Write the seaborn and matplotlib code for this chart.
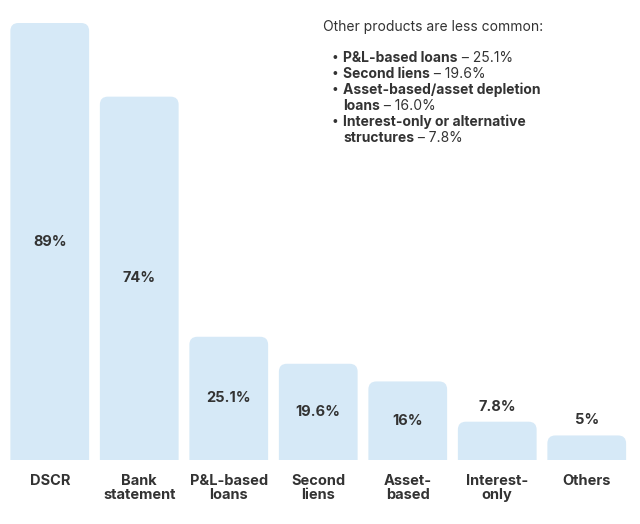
import matplotlib
matplotlib.use('Agg')
import matplotlib.pyplot as plt
import seaborn as sns
import pandas as pd
from matplotlib.patches import FancyBboxPatch

# chart data
categories = ['DSCR', 'Bank\nstatement', 'P&L-based\nloans', 'Second\nliens',
              'Asset-\nbased', 'Interest-\nonly', 'Others']
shares = [89, 74, 25.1, 19.6, 16, 7.8, 5]
value_labels = ['89%', '74%', '25.1%', '19.6%', '16%', '7.8%', '5%']

# side note
note_title = 'Other products are less common:'
note_lines = [
    ('P&L-based loans', ' – 25.1%'),
    ('Second liens', ' – 19.6%'),
    ('Asset-based/asset depletion', None),
    ('loans', ' – 16.0%'),
    ('Interest-only or alternative', None),
    ('structures', ' – 7.8%'),
]
bullet_rows = [0, 1, 2, 4]

sns.set_theme(style='white')
plt.rcParams['font.family'] = ['Inter', 'DejaVu Sans']
text_color = '#333333'
bar_color = '#d6e9f7'

df = pd.DataFrame({'category': categories, 'share': shares})

W, H = 640, 524
fig = plt.figure(figsize=(6.4, 5.24), dpi=100)
base_y, top_y = 460, 23
ax = fig.add_axes([5 / W, (H - base_y) / H, 626.5 / W, (base_y - top_y) / H])

sns.barplot(data=df, x='category', y='share', color=bar_color, width=0.88,
            saturation=1, ax=ax)
ax.set_xlim(-0.5, len(categories) - 0.5)
ax.set_ylim(0, max(shares))

# rounded top corners
px_x = (ax.get_xlim()[1] - ax.get_xlim()[0]) / (626.5)
px_y = (ax.get_ylim()[1] - ax.get_ylim()[0]) / (base_y - top_y)
aspect = px_y / px_x
r = 8 * px_x
for p in list(ax.patches):
    x, w, h = p.get_x(), p.get_width(), p.get_height()
    p.set_visible(False)
    fb = FancyBboxPatch((x, -10 * px_y), w, h + 10 * px_y,
                        boxstyle=f'round,pad=0,rounding_size={r}',
                        mutation_aspect=aspect, facecolor=bar_color,
                        edgecolor='none')
    ax.add_patch(fb)

# value labels
for i, (v, lab) in enumerate(zip(shares, value_labels)):
    if v > 12:
        ax.text(i, v / 2, lab, ha='center', va='center', fontsize=10.5,
                fontweight='bold', color=text_color)
    else:
        ax.text(i, v + 8 * px_y, lab, ha='center', va='bottom', fontsize=10.5,
                fontweight='bold', color=text_color)

ax.set_xlabel('')
ax.set_ylabel('')
ax.set_yticks([])
for s in ax.spines.values():
    s.set_visible(False)
ax.tick_params(axis='x', length=0, pad=10)
for t in ax.get_xticklabels():
    t.set_fontweight('bold')
    t.set_fontsize(10.5)
    t.set_color(text_color)
    t.set_va('top')
    t.set_linespacing(1.05)

# note text
fig.text(323 / W, 1 - 27 / H, note_title, fontsize=10, color=text_color,
         va='center', ha='left')
y0, dy = 58, 16
for k, (bold, rest) in enumerate(note_lines):
    yy = 1 - (y0 + k * dy) / H
    if k in bullet_rows:
        fig.text(335 / W, yy, '•', fontsize=8.5, color=text_color,
                 va='center', ha='center')
    t = fig.text(343 / W, yy, bold, fontsize=10, fontweight='bold',
                 color=text_color, va='center', ha='left')
    if rest:
        ax.annotate(rest, xy=(1, 0.5), xycoords=t, va='center', ha='left',
                    fontsize=10, color=text_color)

fig.savefig('out.png', dpi=100, facecolor='white')
